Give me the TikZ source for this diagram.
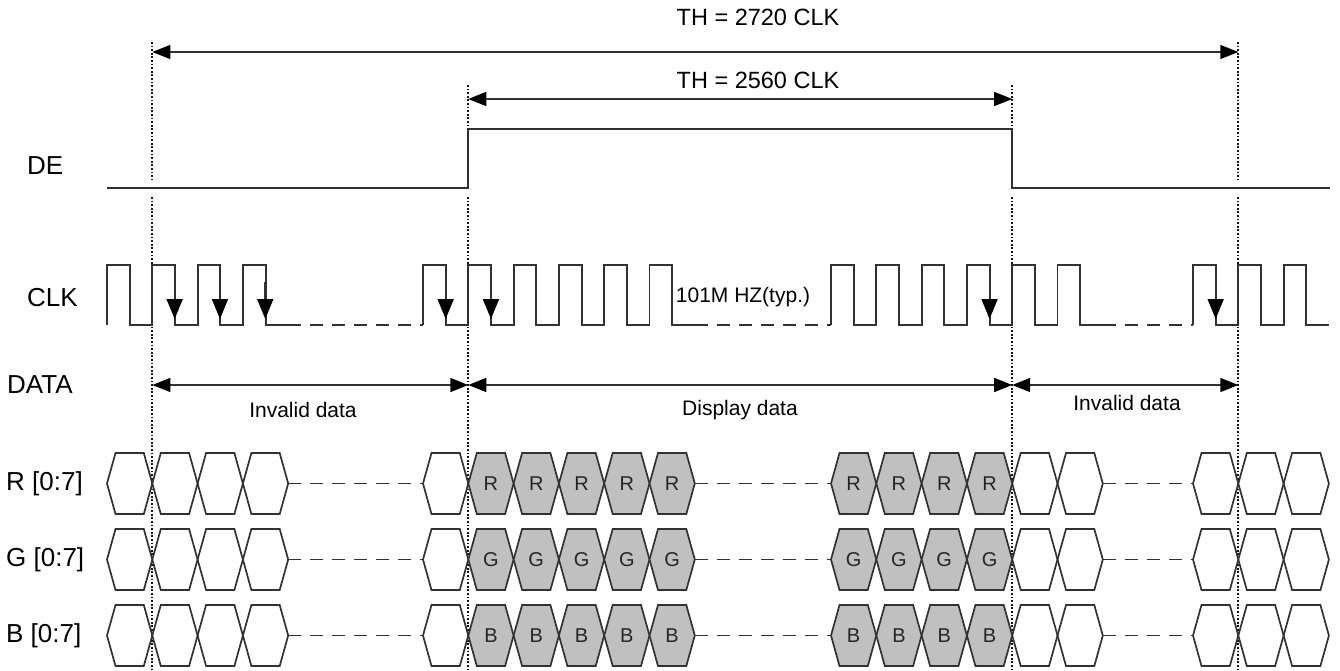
\documentclass[tikz,border=0pt]{standalone}
\usepackage{fontspec}
\setmainfont{Liberation Sans}
\usepackage{tikz}
\usetikzlibrary{arrows.meta}
\definecolor{Wire}{RGB}{50, 50, 50}
\definecolor{Guide}{RGB}{20, 20, 20}
\definecolor{Cell}{RGB}{192, 192, 192}

\tikzset{
  wire/.style={draw=Wire, line width=1.9pt, line join=miter},
  gap/.style={wire, dash pattern=on 13pt off 9pt},
  guide/.style={draw=Guide, line width=1.8pt, dash pattern=on 1.8pt off 1.8pt},
  span/.style={draw=Wire, line width=1.5pt, {Triangle[length=18pt,width=14pt,color=black]}-{Triangle[length=18pt,width=14pt,color=black]}},
  edgetip/.style={draw=Wire, line width=1.9pt, -{Triangle[length=20pt,width=16pt,color=black]}},
  cell/.style={draw=Wire, line width=1.7pt},
  sig/.style={anchor=west, inner sep=0pt, font=\fontsize{26}{30}\selectfont},
  dim/.style={inner sep=0pt, font=\fontsize{23.5}{27}\selectfont},
  note/.style={inner sep=0pt, font=\fontsize{21}{25}\selectfont},
  bit/.style={inner sep=0pt, text=black!85, font=\fontsize{20}{24}\selectfont}
}

\begin{document}
\begin{tikzpicture}[x=1pt, y=-1pt]
    \useasboundingbox (0,0) rectangle (1340,670);

    % guide lines
    \foreach \x/\top in {152.3/42, 468.3/85, 1012.2/85, 1238.3/42}
    {
    \draw[guide] (\x,\top) to (\x,179);
    \draw[guide] (\x,197) to (\x,670);
    }

    % line period
    \coordinate (t1) at (152.3,52);
    \coordinate (t2) at (1238.3,52);
    \coordinate (u1) at (468.3,99);
    \coordinate (u2) at (1012.2,99);
    \draw[span] (t1) to (t2);
    \draw[span] (u1) to (u2);
    \node[dim] (th1) at (758,17) {TH = 2720 CLK};
    \node[dim] (th2) at (758,80) {TH = 2560 CLK};

    % DE
    \node[sig] (de) at (27,166) {DE};
    \draw[wire] (107,188) to (468.3,188) to (468.3,129) to (1012.2,129) to (1012.2,188) to (1330,188);

    % CLK
    \node[sig] (clk) at (27,298) {CLK};
    \foreach \x/\n in {107/4, 423/6, 831/6, 1193/3}
    \draw[wire] (\x,325) \foreach \k in {1,...,\n} { -- ++(0,-60) -- ++(22.65,0) -- ++(0,60) -- ++(22.65,0) };
    \foreach \a/\b in {288.2/423, 694.8/831, 1102.8/1193}
    \draw[gap] (\a,325) to (\b,325);
    \foreach \x in {174.65, 219.95, 265.25, 445.65, 490.95, 989.55, 1215.65}
    \draw[edgetip] (\x,282) to (\x,319);
    \node[note] (freq) at (743,297) {101M HZ(typ.)};

    % DATA
    \node[sig] (data) at (7,385) {DATA};
    \coordinate (d1) at (152.3,385);
    \coordinate (d2) at (468.3,385);
    \coordinate (d3) at (1012.2,385);
    \coordinate (d4) at (1238.3,385);
    \draw[span] (d1) to (d2);
    \draw[span] (d2) to (d3);
    \draw[span] (d3) to (d4);
    \node[note] (inv1) at (303,410) {Invalid data};
    \node[note] (disp) at (740,410) {Display data};
    \node[note] (inv2) at (1127,403) {Invalid data};

    % R, G, B
    \foreach \ch/\y in {R/483.5, G/559.5, B/635.5}
    {
    \node[sig] (lab\ch) at (6,\y) {\ch\ [0:7]};
    \foreach \x in {107, 152.3, 197.6, 242.9, 423, 1012.2, 1057.5, 1193, 1238.3, 1283.6}
    \draw[cell] (\x,\y) -- ++(8.5,-30.5) -- ++(28.3,0) -- ++(8.5,30.5) -- ++(-8.5,30.5) -- ++(-28.3,0) -- cycle;
    \foreach \x [count=\i] in {468.3, 513.6, 558.9, 604.2, 649.5, 831, 876.3, 921.6, 966.9}
    {
    \draw[cell, fill=Cell] (\x,\y) -- ++(8.5,-30.5) -- ++(28.3,0) -- ++(8.5,30.5) -- ++(-8.5,30.5) -- ++(-28.3,0) -- cycle;
    \node[bit] (\ch\i) at (\x+22.65,\y) {\ch};
    }
    \foreach \a/\b in {288.2/423, 694.8/831, 1102.8/1193}
    \draw[gap] (\a,\y) to (\b,\y);
    }
\end{tikzpicture}
\end{document}
